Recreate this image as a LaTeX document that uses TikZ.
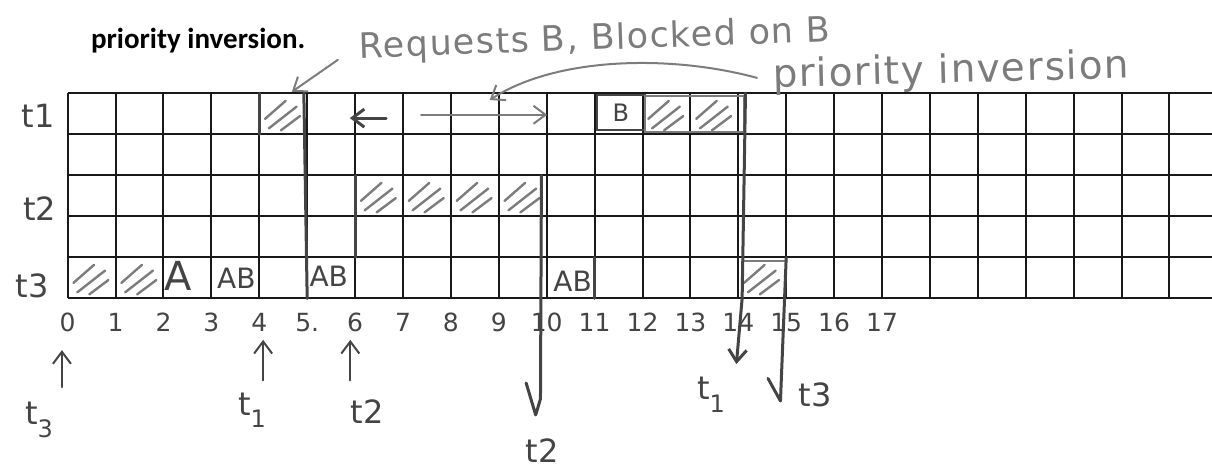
\documentclass[tikz,border=0pt]{standalone}
\usepackage{fontspec}
\setmainfont{DejaVu Sans}
\newfontfamily\printfont{Carlito}
\newfontfamily\handfont[LetterSpace=4]{DejaVu Sans}
\usetikzlibrary{arrows.meta}
\definecolor{pencil}{HTML}{444444}
\definecolor{lightpencil}{HTML}{7C7C7C}
\newcommand\lowidx[1]{\raisebox{-.7ex}{\fontsize{12}{12}\selectfont#1}}
\tikzset{
  gridline/.style={line width=1pt,black!90},
  handline/.style={line width=1.5pt,pencil,line cap=round,line join=round},
  pen/.style={line width=1pt,pencil,line cap=round},
  hatchline/.style={line width=1.2pt,lightpencil,line cap=round},
  hand/.style={font=\handfont\fontsize{17.5}{20}\selectfont,text=lightpencil,inner sep=0pt},
  rowlabel/.style={font=\fontsize{16}{18}\selectfont,text=pencil,inner sep=0pt},
  tick/.style={font=\fontsize{12.5}{14}\selectfont,text=pencil,inner sep=0pt},
  celltext/.style={font=\fontsize{14}{16}\selectfont,text=pencil,inner sep=0pt},
  hatch/.pic={
    \draw[hatchline] (0.12,0.62) -- (0.55,0.18);
    \draw[hatchline] (0.2,0.85) -- (0.78,0.32);
    \draw[hatchline] (0.45,0.9) -- (0.85,0.55);
  },
}

\begin{document}
\begin{tikzpicture}[x=23.95pt,y=-20.5pt,>={Straight Barb[length=6pt,width=9pt]}]
  \useasboundingbox (-1.413,-2.28) rectangle (23.889,9.11);
  % grid
  \foreach \c in {0,...,23} \draw[gridline] (\c,0) -- (\c,5);
  \foreach \r in {0,...,5} \draw[gridline] (0,\r) -- (23.889,\r);

  % heading
  \node[anchor=west,font=\printfont\bfseries\fontsize{14.5}{17}\selectfont] (title) at (0.34,-1.3) {priority inversion.};
  \node[hand,rotate=2] (req)  at (11.0,-1.3)  {Requests B, Blocked on B};
  \node[hand,rotate=1.5,font=\handfont\fontsize{19.5}{21}\selectfont] (pinv) at (18.44,-0.52) {priority inversion};

  % task rows
  \node[rowlabel] (lt1) at (-0.62,0.55) {t1};
  \node[rowlabel] (lt2) at (-0.58,2.8)  {t2};
  \node[rowlabel] (lt3) at (-0.74,4.7)  {t3};

  % time axis
  \foreach \t [count=\i from 0] in {0,1,2,3,4,5.,6,7,8,9,10,11,12,13,14,15,16,17}
    \node[tick] (n\i) at (\i,5.58) {\t};

  % busy cells
  \pic at (4,0) {hatch};
  \pic at (12,0) {hatch};
  \pic at (13,0) {hatch};
  \foreach \c in {6,...,9} \pic at (\c,2) {hatch};
  \pic at (0,4) {hatch};
  \pic at (1,4) {hatch};
  \pic at (14,4) {hatch};
  \draw[pen] (11.04,0.04) rectangle (12.05,0.89);
  \node[celltext,font=\fontsize{12}{14}\selectfont] (b11) at (11.55,0.46) {B};
  \draw[pen,lightpencil] (12.05,0.06) rectangle (14.12,0.93);
  \draw[pen,lightpencil] (14.1,4.08) -- (15,4.08);
  \node[celltext,font=\fontsize{20}{22}\selectfont] (a2) at (2.3,4.45) {A};
  \node[celltext] (ab3)  at (3.52,4.5)  {AB};
  \node[celltext] (ab5)  at (5.45,4.45) {AB};
  \node[celltext] (ab10) at (10.54,4.59) {AB};

  % blocked interval
  \coordinate (bl1) at (6.65,0.6);
  \coordinate (bl2) at (5.89,0.6);
  \coordinate (br1) at (7.38,0.52);
  \coordinate (br2) at (10.01,0.52);
  \draw[handline,->] (bl1) -- (bl2);
  \draw[pen,lightpencil,->] (br1) -- (br2);

  % hand lines
  \coordinate (v4a) at (4,0);     \coordinate (v4b) at (4,1);
  \coordinate (v5a) at (4.93,0);  \coordinate (v5b) at (5,5);
  \coordinate (v6a) at (6,2);     \coordinate (v6b) at (6,4);
  \coordinate (v11a) at (11,4);   \coordinate (v11b) at (11,5);
  \draw[handline] (v4a) -- (v4b);
  \draw[handline] (v5a) -- (v5b);
  \draw[handline] (v6a) -- (v6b);
  \draw[handline] (v11a) -- (v11b);

  % arrivals
  \coordinate (u0) at (-0.12,7.16);  \coordinate (u0t) at (-0.12,6.26);
  \coordinate (u4) at (4.08,7.0);    \coordinate (u4t) at (4.08,6.01);
  \coordinate (u6) at (5.9,7.0);     \coordinate (u6t) at (5.9,6.01);
  \draw[pen,->] (u0) -- (u0t);
  \draw[pen,->] (u4) -- (u4t);
  \draw[pen,->] (u6) -- (u6t);
  \node[rowlabel] (st3) at (-0.6,7.96) {t\lowidx{3}};
  \node[rowlabel] (st1) at (3.85,7.72)  {t\lowidx{1}};
  \node[rowlabel] (st2) at (6.25,7.75)  {t2};

  % completions
  \coordinate (d10a) at (9.89,2);   \coordinate (d10b) at (9.87,7.45);
  \coordinate (d10c) at (9.77,7.84); \coordinate (d10d) at (9.57,7.06);
  \draw[handline] (d10a) -- (d10b) -- (d10c) -- (d10d);
  \coordinate (d14a) at (14.15,0);  \coordinate (d14b) at (14.08,5);
  \coordinate (d14c) at (13.96,6.6);
  \draw[handline,->] (d14a) -- (d14b) -- (d14c);
  \coordinate (d15a) at (15,4);     \coordinate (d15b) at (14.88,7.5);
  \coordinate (d15c) at (14.62,6.95);
  \draw[handline] (d15a) -- (d15b) -- (d15c);
  \node[rowlabel] (et2) at (9.9,8.7)   {t2};
  \node[rowlabel] (et1) at (13.43,7.35) {t\lowidx{1}};
  \node[rowlabel] (et3) at (15.6,7.35)  {t3};

  % annotations
  \coordinate (rq) at (5.64,-0.82);
  \coordinate (rqt) at (4.68,-0.04);
  \draw[pen,lightpencil,->] (rq) -- (rqt);
  \coordinate (pc1) at (14.39,-0.38);
  \coordinate (pc2) at (8.81,0.16);
  \draw[pen,lightpencil,->] (pc1) .. controls (12.6,-0.95) and (10.2,-0.9) .. (pc2);
\end{tikzpicture}
\end{document}
